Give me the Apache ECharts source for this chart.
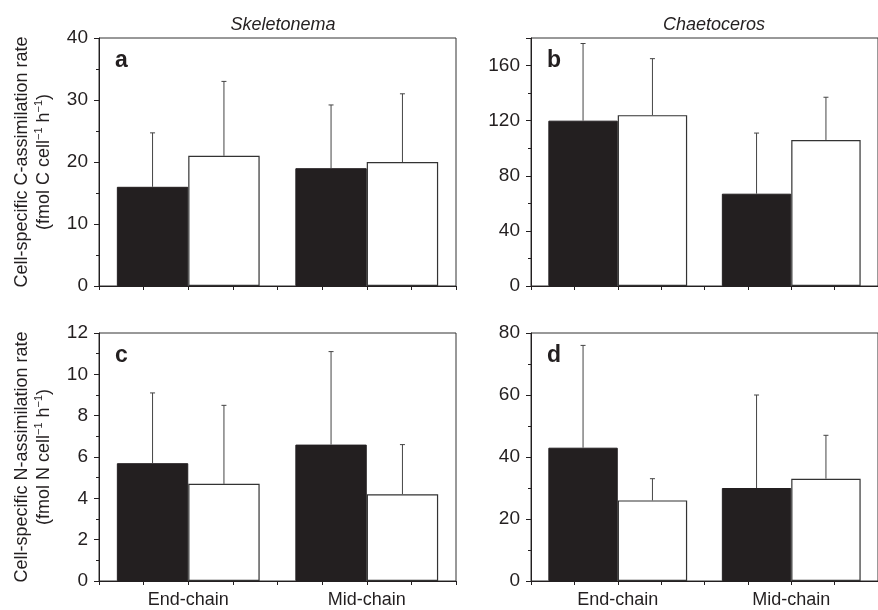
<!DOCTYPE html>
<html>
<head>
<meta charset="utf-8">
<script src="https://cdn.jsdelivr.net/npm/echarts@6/dist/echarts.min.js"></script>
<style>
html,body{margin:0;padding:0;background:#fff;}
#chart{width:878px;height:610px;}
</style>
</head>
<body>
<div id="chart"></div>
<script>
// ---- data ----
var categories = ['End-chain', 'Mid-chain'];
var panelTitles = ['Skeletonema', 'Chaetoceros'];
var panelLetters = ['a', 'b', 'c', 'd'];
// a: Skeletonema C
var aBlack = [16, 19];
var aBlackSD = [8.7, 10.2];
var aWhite = [21, 20];
var aWhiteSD = [12, 11];
// b: Chaetoceros C
var bBlack = [120, 67];
var bBlackSD = [56, 44];
var bWhite = [124, 106];
var bWhiteSD = [41, 31];
// c: Skeletonema N
var cBlack = [5.7, 6.6];
var cBlackSD = [3.4, 4.5];
var cWhite = [4.7, 4.2];
var cWhiteSD = [3.8, 2.4];
// d: Chaetoceros N
var dBlack = [43, 30];
var dBlackSD = [33, 30];
var dWhite = [26, 33];
var dWhiteSD = [7, 14];
// axis settings
var yMax = [40, 180, 12, 80];
var yInterval = [10, 40, 2, 20];
var yNameC = 'Cell-specific C-assimilation rate';
var yNameN = 'Cell-specific N-assimilation rate';

var FONT = 'Liberation Sans, Arial, Helvetica, sans-serif';
var INK = '#231f20';
var chart = echarts.init(document.getElementById('chart'), null, {renderer: 'canvas'});

var grids = [
  {left: 99, top: 38, width: 357, height: 248},
  {left: 531, top: 38, width: 357, height: 248},
  {left: 99, top: 333, width: 357, height: 248},
  {left: 531, top: 333, width: 357, height: 248}
];
grids.forEach(function (g) {
  g.show = true; g.borderColor = '#333'; g.borderWidth = 1; g.backgroundColor = 'transparent';
  g.containLabel = false;
});

var xAxes = [], yAxes = [], series = [];
var panels = [
  [aBlack, aBlackSD, aWhite, aWhiteSD],
  [bBlack, bBlackSD, bWhite, bWhiteSD],
  [cBlack, cBlackSD, cWhite, cWhiteSD],
  [dBlack, dBlackSD, dWhite, dWhiteSD]
];

function yName(unit, txt) {
  return '{t|' + txt + '}\n{t|(fmol ' + unit + ' cell}{s|\u22121}{t| h}{s|\u22121}{t|)}';
}

for (var i = 0; i < 4; i++) {
  xAxes.push({
    type: 'category', gridIndex: i, data: categories, position: 'bottom',
    axisLine: {show: true, lineStyle: {color: INK, width: 1}},
    axisTick: {show: false},
    axisLabel: {show: i >= 2, fontSize: 18, color: INK, fontFamily: FONT, margin: 10},
    splitLine: {show: false}
  });
  var ya = {
    type: 'value', gridIndex: i, min: 0, max: yMax[i], interval: yInterval[i],
    axisLine: {show: true, lineStyle: {color: INK, width: 1}},
    axisTick: {show: true, length: 5, lineStyle: {color: INK}},
    minorTick: {show: true, splitNumber: 2, length: 3, lineStyle: {color: INK}},
    splitLine: {show: false},
    axisLabel: {fontSize: 19, color: INK, fontFamily: FONT, margin: 11, showMaxLabel: i !== 1}
  };
  if (i === 0 || i === 2) {
    ya.name = yName(i === 0 ? 'C' : 'N', i === 0 ? yNameC : yNameN);
    ya.nameLocation = 'middle';
    ya.nameRotate = 90;
    ya.nameGap = 44;
    ya.nameTextStyle = {
      fontFamily: FONT, color: INK, lineHeight: 22,
      rich: {
        t: {fontSize: 18, fontFamily: FONT, color: INK, lineHeight: 22},
        s: {fontSize: 11, fontFamily: FONT, color: INK, verticalAlign: 'top', lineHeight: 22, padding: [0, 0, 8, 0]}
      }
    };
  }
  yAxes.push(ya);
}
// tick-only value axes
for (var j = 0; j < 4; j++) {
  xAxes.push({
    type: 'value', gridIndex: j, min: 0, max: 8, interval: 1, position: 'bottom', offset: 0,
    axisLine: {show: false},
    axisTick: {show: true, length: 4, lineStyle: {color: INK}},
    axisLabel: {show: false},
    splitLine: {show: false}
  });
}

function errSeries(idx, vals, sds, off) {
  return {
    type: 'custom', xAxisIndex: idx, yAxisIndex: idx, z: 5,
    data: categories.map(function (c, k) { return [k, vals[k], sds[k]]; }),
    renderItem: function (params, api) {
      var k = api.value(0), v = api.value(1), s = api.value(2);
      var band = api.size([1, 0])[0];
      var p0 = api.coord([k, v]);
      var p1 = api.coord([k, v + s]);
      var x = p0[0] + off * band;
      return {
        type: 'group',
        children: [
          {type: 'line', shape: {x1: x, y1: p0[1], x2: x, y2: p1[1]}, style: {stroke: '#444', lineWidth: 1}},
          {type: 'line', shape: {x1: x - 2.5, y1: p1[1], x2: x + 2.5, y2: p1[1]}, style: {stroke: '#444', lineWidth: 1}}
        ]
      };
    }
  };
}

for (var p = 0; p < 4; p++) {
  var d = panels[p];
  series.push({
    type: 'bar', xAxisIndex: p, yAxisIndex: p, data: d[0], barGap: '0%', barCategoryGap: '20%',
    itemStyle: {color: INK, borderColor: INK, borderWidth: 1}, z: 3
  });
  series.push({
    type: 'bar', xAxisIndex: p, yAxisIndex: p, data: d[2], barGap: '0%', barCategoryGap: '20%',
    itemStyle: {color: '#fff', borderColor: '#333', borderWidth: 1.2}, z: 3
  });
  series.push(errSeries(p, d[0], d[1], -0.2));
  series.push(errSeries(p, d[2], d[3], 0.2));
}

var titles = [
  {text: panelTitles[0], left: 278, top: 11, textAlign: 'center',
   textStyle: {fontSize: 18, fontStyle: 'italic', fontWeight: 'normal', color: INK, fontFamily: FONT}},
  {text: panelTitles[1], left: 709, top: 11, textAlign: 'center',
   textStyle: {fontSize: 18, fontStyle: 'italic', fontWeight: 'normal', color: INK, fontFamily: FONT}}
];
grids.forEach(function (g, k) {
  titles.push({text: panelLetters[k], left: g.left + 11, top: g.top + 6,
    textStyle: {fontSize: 23, fontWeight: 'bold', color: INK, fontFamily: FONT}});
});

chart.setOption({
  animation: false,
  backgroundColor: '#fff',
  title: titles,
  grid: grids,
  xAxis: xAxes,
  yAxis: yAxes,
  series: series
});
</script>
</body>
</html>
